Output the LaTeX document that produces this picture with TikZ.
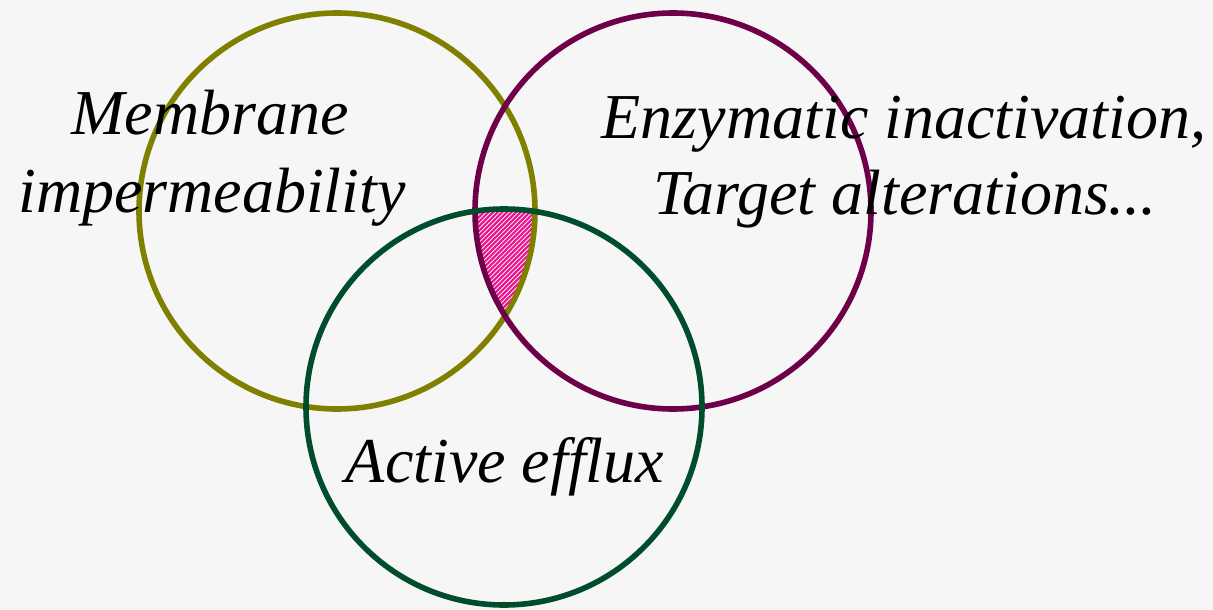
\documentclass[tikz,border=0pt]{standalone}
\usepackage{fontspec}
\setmainfont{Liberation Serif}
\definecolor{bg}{HTML}{F6F6F6}
\definecolor{olivec}{HTML}{7F7F00}
\definecolor{plumc}{HTML}{6E0049}
\definecolor{greenc}{HTML}{004D2E}
\definecolor{hatchc}{HTML}{E8168F}
\tikzset{
  ring/.style={line width=5.6pt},
  hatchline/.style={draw=hatchc, line width=2.2pt},
  lbl/.style={font=\fontsize{64}{72}\selectfont\itshape, anchor=base, inner sep=0pt, text=black},
}
\begin{document}
\begin{tikzpicture}[x=1pt,y=-1pt]
\fill[bg] (0,0) rectangle (1213,610);
\useasboundingbox (0,0) rectangle (1213,610);
\begin{scope}
  \clip (337,211) circle (198);
  \clip (673,211) circle (198);
  \clip (504,407) circle (198);
  \fill[white] (460,200) rectangle (550,330);
  \foreach \k in {0,...,80} {
    \draw[hatchline] ({300+\k*4.6},350) -- ({300+\k*4.6+170},180);
  }
\end{scope}
\node[draw=olivec, ring, circle, minimum size=396pt, inner sep=0pt] (mem) at (337,211) {};
\node[draw=plumc, ring, circle, minimum size=396pt, inner sep=0pt] (enz) at (673,211) {};
\node[draw=greenc, ring, circle, minimum size=396pt, inner sep=0pt] (eff) at (504,407) {};
\node[lbl] (t1) at (210,134) {Membrane};
\node[lbl] (t2) at (212,212) {impermeability};
\node[lbl] (t3) at (904,138) {Enzymatic inactivation,};
\node[lbl] (t4) at (905,214) {Target alterations...};
\node[lbl] (t5) at (505,482) {Active efflux};
\end{tikzpicture}
\end{document}
